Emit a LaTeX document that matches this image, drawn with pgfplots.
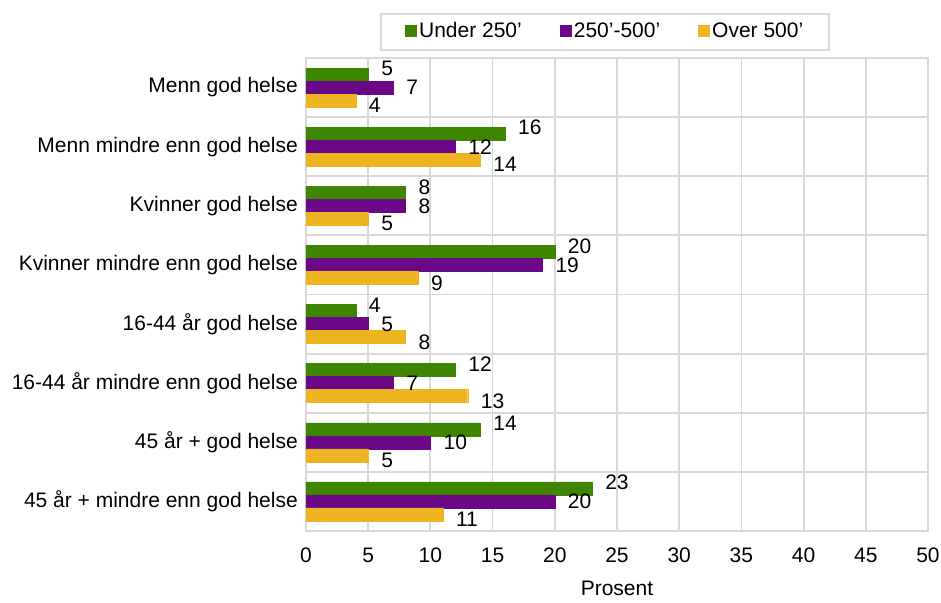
\documentclass[border=0pt]{standalone}
\usepackage{pgfplots}
\pgfplotsset{compat=1.18}
\usepackage{fontspec}
\setmainfont{Liberation Sans}
\definecolor{cgreen}{HTML}{3F8600}
\definecolor{cpurple}{HTML}{6A0888}
\definecolor{cyellow}{HTML}{EDB321}
\definecolor{cgrid}{HTML}{D9D9D9}
\begin{document}
\fontsize{21}{24}\selectfont
\begin{tikzpicture}
\begin{axis}[
  scale only axis,
  width=622pt, height=473pt,
  xbar=0pt, bar width=13pt,
  xmin=0, xmax=50,
  ymin=-0.5, ymax=7.5,
  y dir=reverse,
  xtick={0,5,...,50},
  ytick={0,...,7},
  yticklabels={Menn god helse\hspace{6pt},Menn mindre enn god helse,Kvinner god helse,Kvinner mindre enn god helse,16-44 år god helse,16-44 år mindre enn god helse,45 år + god helse,45 år + mindre enn god helse},
  minor ytick={0.5,1.5,...,6.5},
  ymajorgrids=false,
  yminorgrids=true,
  xmajorgrids=true,
  grid style={cgrid, line width=1.8pt},
  minor grid style={cgrid, line width=1.8pt},
  axis line style={cgrid, line width=1.8pt},
  major tick length=0pt, minor tick length=0pt,
  tick label style={font=\fontsize{21}{24}\selectfont},
  yticklabel style={xshift=-2pt, inner xsep=6pt},
  xticklabel style={yshift=-10pt, inner xsep=0pt},
  /pgf/number format/assume math mode=true,
  xlabel={Prosent},
  xlabel style={font=\fontsize{21}{24}\selectfont, yshift=-4pt},
  nodes near coords,
  nodes near coords style={font=\fontsize{21}{24}\selectfont, text=black, anchor=west, xshift=6pt, inner ysep=1pt},
  legend columns=3,
  legend style={at={([yshift=7pt]axis description cs:0.481,1)}, anchor=south, draw=cgrid, line width=1.8pt, font=\fontsize{21}{24}\selectfont, inner xsep=24pt, inner ysep=7pt, /tikz/every even column/.append style={column sep=36pt}},
  legend image code/.code={\fill[#1, draw=none] (0pt,-5pt) rectangle (12pt,7pt);},
]
\addplot[fill=cgreen, draw=cgreen, bar shift=13pt, nodes near coords style={yshift=6pt}] coordinates {(5,0) (16,1) (8,2) (20,3) (4,4) (12,5) (14,6) (23,7)};
\addplot[fill=cpurple, draw=cpurple, bar shift=0pt] coordinates {(7,0) (12,1) (8,2) (19,3) (5,4) (7,5) (10,6) (20,7)};
\addplot[fill=cyellow, draw=cyellow, bar shift=-13pt, nodes near coords style={yshift=-5pt}] coordinates {(4,0) (14,1) (5,2) (9,3) (8,4) (13,5) (5,6) (11,7)};
\legend{Under 250',250'-500',Over 500'}
\end{axis}
\path (current axis.south west) ++(-306pt,-66pt);
\path (current axis.north east) ++(13pt,58pt);
\end{tikzpicture}
\end{document}
